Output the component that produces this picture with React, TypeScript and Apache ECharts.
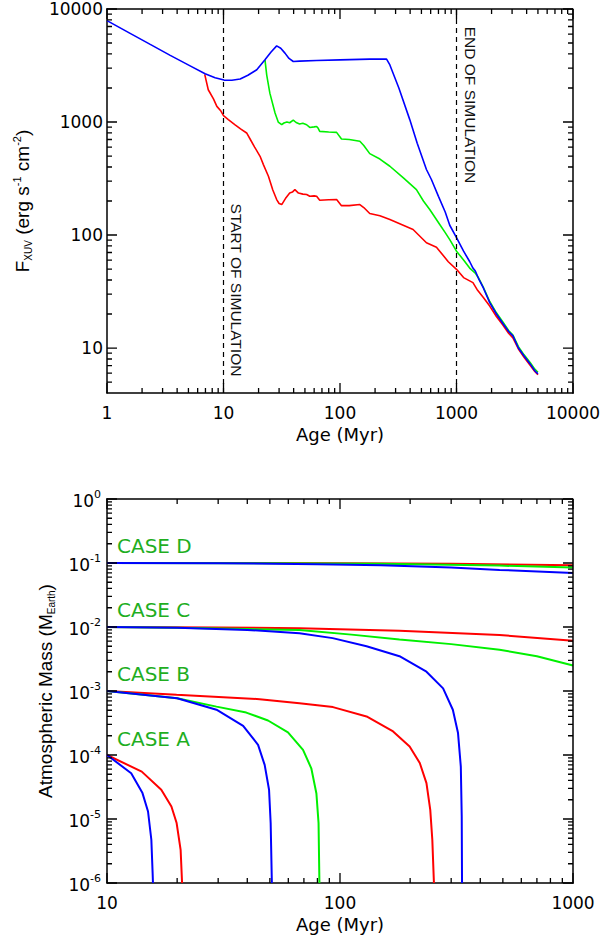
import React, { useEffect, useRef } from 'react';
import * as echarts from 'echarts';

// ---------- tick values ----------
const topAgeTicks = [1, 10, 100, 1000, 10000];
const topFluxTicks = [10, 100, 1000, 10000];
const bottomAgeTicks = [10, 100, 1000];
const bottomMassTicks = [1e-6, 1e-5, 1e-4, 1e-3, 1e-2, 1e-1, 1];
const minorMultipliers = [2, 3, 4, 5, 6, 7, 8, 9];
const topFluxMin = 4;

// ---------- top panel: F_XUV vs age ----------
const fluxRed: [number, number][] = [
  [6.9, 2640], [7.4, 1930], [8.2, 1600], [8.77, 1375], [9.5, 1250], [10, 1137], [11, 1050],
  [12.5, 950], [14, 870], [15.8, 800], [17, 700], [18.5, 600], [20.6, 497], [22, 420],
  [24.3, 331], [26.5, 250], [28.6, 206], [30, 190], [31.6, 186], [34, 210], [37, 235],
  [39, 240], [41, 252], [44, 235], [48, 230], [51.7, 228], [55, 220], [60, 222], [63, 220],
  [67, 203], [80, 205], [93.5, 206], [103, 182], [120, 182], [148, 186], [160, 175],
  [180, 155], [220, 148], [268, 137], [424, 112], [552, 85.5], [673, 78], [718, 72],
  [850, 58], [1000, 49.7], [1150, 42], [1384, 37.9], [1500, 33], [1700, 28], [1928, 23.5],
  [2200, 19], [2500, 16], [2800, 13.5], [3050, 12.3], [3400, 9.8], [3800, 8.3], [4300, 7],
  [4700, 6.2], [5000, 5.8],
];
const fluxGreen: [number, number][] = [
  [22.7, 3550], [23.5, 2600], [25, 1800], [27.7, 1200], [29.5, 1000], [31.6, 946], [33, 980],
  [35, 1000], [37, 985], [39.7, 1040], [42, 990], [45, 960], [48, 975], [51.7, 946],
  [55, 895], [60, 905], [63, 914], [65, 880], [67, 826], [80, 815], [93.5, 810], [103, 708],
  [120, 700], [148, 675], [160, 620], [180, 525], [220, 470], [268, 406], [350, 320],
  [453, 252], [520, 200], [589, 168], [718, 124], [800, 105], [875, 91], [1000, 72],
  [1150, 60], [1297, 51], [1450, 46], [1550, 41.5], [1700, 34.5], [1928, 25.8], [2200, 20.5],
  [2500, 17], [2800, 14.3], [3050, 13], [3400, 10.3], [3800, 8.7], [4300, 7.4], [4700, 6.5],
  [5000, 6.1],
];
const fluxBlue: [number, number][] = [
  [1, 7890], [1.58, 6080], [2.35, 4860], [3.49, 3890], [5.17, 3140], [6.95, 2670], [8.47, 2460],
  [10.1, 2350], [11.8, 2340], [13.9, 2400], [16.2, 2590], [19.3, 2900], [22.7, 3550], [25.6, 4170],
  [28.6, 4720], [31, 4500], [33.7, 4070], [36.5, 3650], [39.7, 3430], [45, 3460], [63, 3500],
  [100, 3550], [180, 3600], [251, 3600], [268, 3200], [320, 2000], [397, 1050], [460, 650],
  [552, 380], [609, 310], [700, 220], [800, 160], [875, 122], [1000, 95], [1150, 72],
  [1300, 58], [1384, 51], [1450, 48], [1550, 41], [1700, 34], [1928, 25.2], [2200, 20],
  [2500, 16.5], [2800, 14], [3050, 12.8], [3400, 10], [3800, 8.5], [4300, 7.2], [4700, 6.3],
  [5000, 5.9],
];
const simulationStart = 10;
const simulationEnd = 1000;

// ---------- bottom panel: atmospheric mass vs age ----------
const massRedA: [number, number][] = [
  [10, 1e-4], [14.1, 5.5e-5], [17.1, 2.86e-5], [18.9, 1.57e-5], [19.9, 8.65e-6], [20.7, 3.3e-6], [21, 1e-6],
];
const massBlueA: [number, number][] = [
  [10, 1e-4], [12.7, 5.2e-5], [14.2, 2.54e-5], [15.0, 1.31e-5], [15.5, 4.74e-6], [15.7, 1.4e-6], [15.75, 1e-6],
];
const massRedB: [number, number][] = [
  [10, 1e-3], [19.9, 8.7e-4], [45.2, 7.46e-4], [67, 6.46e-4], [93.3, 5.6e-4], [130, 4.0e-4],
  [169, 2.33e-4], [199, 1.36e-4], [220, 7.5e-5], [235, 3.64e-5], [244, 1.39e-5], [249, 4.74e-6], [253, 1e-6],
];
const massGreenB: [number, number][] = [
  [10, 1e-3], [20, 7.7e-4], [29.5, 5.7e-4], [39.6, 4.6e-4], [49.1, 3.46e-4], [59.8, 2.25e-4],
  [69.4, 1.2e-4], [75.3, 6.2e-5], [79.2, 2.5e-5], [80.9, 8.65e-6], [81.6, 1e-6],
];
const massBlueB: [number, number][] = [
  [10, 1e-3], [20, 7.7e-4], [29.5, 5.1e-4], [38.4, 2.86e-4], [44.5, 1.44e-4], [47.5, 7.0e-5],
  [49.6, 2.86e-5], [50.4, 8.65e-6], [51, 1e-6],
];
const massRedC: [number, number][] = [
  [10, 1e-2], [30, 9.8e-3], [67, 9.6e-3], [180, 8.7e-3], [484, 7.5e-3], [1000, 6.1e-3],
];
const massGreenC: [number, number][] = [
  [10, 1e-2], [20, 9.7e-3], [40, 9.3e-3], [67, 9.0e-3], [112, 7.6e-3], [180, 6.4e-3],
  [300, 5.4e-3], [484, 4.4e-3], [700, 3.5e-3], [1000, 2.5e-3],
];
const massBlueC: [number, number][] = [
  [10, 1e-2], [20, 9.7e-3], [40, 9.0e-3], [67, 8.0e-3], [93, 6.7e-3], [130, 5.0e-3],
  [180, 3.5e-3], [235, 2.0e-3], [277, 1.1e-3], [305, 5.1e-4], [321, 2.2e-4], [330, 6.6e-5],
  [333, 1.1e-5], [334, 1e-6],
];
const massRedD: [number, number][] = [[10, 0.1], [100, 0.0995], [300, 0.097], [1000, 0.092]];
const massGreenD: [number, number][] = [[10, 0.1], [50, 0.0995], [150, 0.097], [484, 0.091], [1000, 0.085]];
const massBlueD: [number, number][] = [
  [10, 0.1], [30, 0.099], [80, 0.096], [150, 0.092], [300, 0.085], [484, 0.078], [1000, 0.07],
];
const caseLabels = ['CASE D', 'CASE C', 'CASE B', 'CASE A'];

// ---------- styling ----------
const FONT = '"DejaVu Sans", "Liberation Sans", sans-serif';
const FONT_R = '"Liberation Sans", Arial, sans-serif';
const RED = '#ff0000';
const GREEN = '#00f000';
const BLUE = '#0000ff';
const CASE_GREEN = '#1fae1f';
const MAJOR_LEN = 10;
const MINOR_LEN = 5;
const G0 = { left: 107, top: 9, width: 466, height: 384 };
const G1 = { left: 107, top: 499, width: 466, height: 384 };

const L = Math.log10;
const isPow10 = (v: number) => Math.abs(L(v) - Math.round(L(v))) < 1e-6;

function minorValues(decades: number[], lo: number, hi: number) {
  const out: number[] = [];
  decades.forEach((d) =>
    minorMultipliers.forEach((m) => {
      const v = m * d;
      if (v > lo * 1.0001 && v < hi * 0.9999) out.push(v);
    })
  );
  return out;
}

const panels = [
  {
    grid: G0, xMin: 1, xMax: 10000, yMin: topFluxMin, yMax: 10000,
    xMajor: topAgeTicks, xMinor: minorValues(topAgeTicks, 1, 10000),
    yMajor: topFluxTicks, yMinor: minorValues([1, ...topFluxTicks], topFluxMin, 10000),
  },
  {
    grid: G1, xMin: 10, xMax: 1000, yMin: 1e-6, yMax: 1,
    xMajor: bottomAgeTicks, xMinor: minorValues(bottomAgeTicks, 10, 1000),
    yMajor: bottomMassTicks, yMinor: minorValues(bottomMassTicks, 1e-6, 1),
  },
];

const GAP: any = ['-', '-'];

// Frame (top + right edges) and inward IDL-style ticks, drawn as broken
// polylines on the same log axes; tick lengths are converted from pixels to
// a multiplicative factor using the grid size and the axis range.
function frameAndTickSeries(): any[] {
  const out: any[] = [];
  panels.forEach((p, panel) => {
    const decX = p.grid.width / (L(p.xMax) - L(p.xMin));
    const decY = p.grid.height / (L(p.yMax) - L(p.yMin));
    const fx = (len: number) => Math.pow(10, len / decX);
    const fy = (len: number) => Math.pow(10, len / decY);
    const data: any[] = [];
    const addX = (v: number, len: number) => {
      data.push([v, p.yMin], [v, p.yMin * fy(len)], GAP);
      data.push([v, p.yMax], [v, p.yMax / fy(len)], GAP);
    };
    const addY = (v: number, len: number) => {
      data.push([p.xMin, v], [p.xMin * fx(len), v], GAP);
      data.push([p.xMax, v], [p.xMax / fx(len), v], GAP);
    };
    p.xMajor.forEach((v) => addX(v, MAJOR_LEN));
    p.xMinor.forEach((v) => addX(v, MINOR_LEN));
    p.yMajor.forEach((v) => addY(v, MAJOR_LEN));
    p.yMinor.forEach((v) => addY(v, MINOR_LEN));
    out.push({
      type: 'line', name: 'ticks ' + panel, data, xAxisIndex: panel, yAxisIndex: panel,
      showSymbol: false, symbol: 'none', connectNulls: false, clip: false, silent: true, z: 5,
      color: '#000', lineStyle: { color: '#000', width: 1.3, cap: 'butt' },
    });
    out.push({
      type: 'line', name: 'frame ' + panel,
      data: [[p.xMin, p.yMax], [p.xMax, p.yMax], [p.xMax, p.yMin]],
      xAxisIndex: panel, yAxisIndex: panel,
      showSymbol: false, symbol: 'none', clip: false, silent: true, z: 5,
      color: '#000', lineStyle: { color: '#000', width: 1.5, cap: 'square' },
    });
  });
  return out;
}

function buildOption() {
  const axisName = { fontFamily: FONT, fontSize: 18, color: '#000' };
  const powLabel = (v: number) => (isPow10(v) ? String(Math.round(v)) : '');
  const baseLog = {
    type: 'log', logBase: 10,
    axisLine: { show: true, onZero: false, lineStyle: { color: '#000', width: 1.5 } },
    axisTick: { show: false }, minorTick: { show: false }, splitLine: { show: false },
  };

  const xAxis: any[] = [
    {
      ...baseLog, gridIndex: 0, position: 'bottom', min: 1, max: 10000,
      axisLabel: { fontFamily: FONT, fontSize: 17, color: '#000', margin: 11, formatter: powLabel },
      name: 'Age (Myr)', nameLocation: 'middle', nameGap: 32, nameTextStyle: axisName,
    },
    {
      ...baseLog, gridIndex: 1, position: 'bottom', min: 10, max: 1000,
      axisLabel: { fontFamily: FONT, fontSize: 17, color: '#000', margin: 11, formatter: powLabel },
      name: 'Age (Myr)', nameLocation: 'middle', nameGap: 32, nameTextStyle: { ...axisName },
    },
  ];

  const yAxis: any[] = [
    {
      ...baseLog, gridIndex: 0, position: 'left', min: topFluxMin, max: 10000,
      axisLabel: { fontFamily: FONT, fontSize: 17, color: '#000', margin: 4, formatter: powLabel },
    },
    {
      ...baseLog, gridIndex: 1, position: 'left', min: 1e-6, max: 1,
      axisLabel: {
        color: '#000', margin: 6, fontFamily: FONT, fontSize: 17,
        formatter: (v: number) => (isPow10(v) ? `{b|10}{s|${Math.round(L(v))}}` : ''),
        rich: {
          b: { fontFamily: FONT, fontSize: 17, lineHeight: 21, verticalAlign: 'bottom', color: '#000' },
          s: { fontFamily: FONT, fontSize: 11, lineHeight: 11, verticalAlign: 'top', color: '#000' },
        },
      },
    },
  ];

  const line = (name: string, data: [number, number][], color: string, panel: number, width: number, extra: any = {}) => ({
    type: 'line', name, data, xAxisIndex: panel, yAxisIndex: panel, showSymbol: false, symbol: 'none',
    color, lineStyle: { color, width }, silent: true, ...extra,
  });

  const series: any[] = [
    line('F_XUV red', fluxRed, RED, 0, 1.6, {
      markLine: {
        silent: true, symbol: ['none', 'none'], label: { show: false },
        lineStyle: { color: '#000', type: [5, 4], width: 1.2 },
        data: [{ xAxis: simulationStart }, { xAxis: simulationEnd }],
      },
    }),
    line('F_XUV green', fluxGreen, GREEN, 0, 1.6),
    line('F_XUV blue', fluxBlue, BLUE, 0, 1.6),
    line('A red', massRedA, RED, 1, 2),
    line('A blue', massBlueA, BLUE, 1, 2),
    line('B red', massRedB, RED, 1, 2),
    line('B green', massGreenB, GREEN, 1, 2),
    line('B blue', massBlueB, BLUE, 1, 2),
    line('C red', massRedC, RED, 1, 2),
    line('C green', massGreenC, GREEN, 1, 2),
    line('C blue', massBlueC, BLUE, 1, 2),
    line('D red', massRedD, RED, 1, 2),
    line('D green', massGreenD, GREEN, 1, 2),
    line('D blue', massBlueD, BLUE, 1, 2),
    ...frameAndTickSeries(),
  ];

  const caseY = [546, 610, 674, 739];
  const graphic: any[] = [
    {
      type: 'text', x: 22, y: 201, rotation: Math.PI / 2, silent: true,
      style: {
        text: '{a|F}{b|XUV}{a| (erg s}{c|-1}{a| cm}{c|-2}{a|)}',
        rich: {
          a: { fontFamily: FONT_R, fontSize: 19, lineHeight: 22, verticalAlign: 'middle', fill: '#000' },
          b: { fontFamily: FONT_R, fontSize: 10, lineHeight: 12, verticalAlign: 'bottom', fill: '#000' },
          c: { fontFamily: FONT_R, fontSize: 11, lineHeight: 11, verticalAlign: 'top', fill: '#000' },
        },
        align: 'center', verticalAlign: 'middle', fill: '#000',
      },
    },
    {
      type: 'text', x: 45, y: 691, rotation: Math.PI / 2, silent: true,
      style: {
        text: '{a|Atmospheric Mass (M}{b|Earth}{a|)}',
        rich: {
          a: { fontFamily: FONT_R, fontSize: 19, lineHeight: 22, verticalAlign: 'middle', fill: '#000' },
          b: { fontFamily: FONT_R, fontSize: 10, lineHeight: 12, verticalAlign: 'bottom', fill: '#000' },
        },
        align: 'center', verticalAlign: 'middle', fill: '#000',
      },
    },
    {
      type: 'text', x: 236, y: 290, rotation: -Math.PI / 2, silent: true,
      style: { text: 'START OF SIMULATION', fontFamily: FONT_R, fontSize: 15.5, fill: '#111', align: 'center', verticalAlign: 'middle' },
    },
    {
      type: 'text', x: 470, y: 105, rotation: -Math.PI / 2, silent: true,
      style: { text: 'END OF SIMULATION', fontFamily: FONT_R, fontSize: 15.5, fill: '#111', align: 'center', verticalAlign: 'middle' },
    },
    ...caseLabels.map((t, i) => ({
      type: 'text', x: 117, y: caseY[i], silent: true,
      style: { text: t, fontFamily: FONT, fontSize: 20, fill: CASE_GREEN, align: 'left', verticalAlign: 'middle' },
    })),
  ];

  return {
    animation: false,
    backgroundColor: '#fff',
    grid: [{ ...G0, containLabel: false, outerBoundsMode: 'none' }, { ...G1, containLabel: false, outerBoundsMode: 'none' }],
    xAxis,
    yAxis,
    series,
    graphic,
  };
}

export default function App() {
  const ref = useRef<HTMLDivElement>(null);
  useEffect(() => {
    if (!ref.current) return;
    const chart = echarts.init(ref.current, undefined, { renderer: 'svg' });
    chart.setOption(buildOption() as any);
    return () => chart.dispose();
  }, []);
  return (
    <div style={{ position: 'absolute', left: 0, top: 0, width: 610, height: 939, background: '#fff', overflow: 'hidden' }}>
      <div ref={ref} style={{ width: 610, height: 939 }} />
    </div>
  );
}
